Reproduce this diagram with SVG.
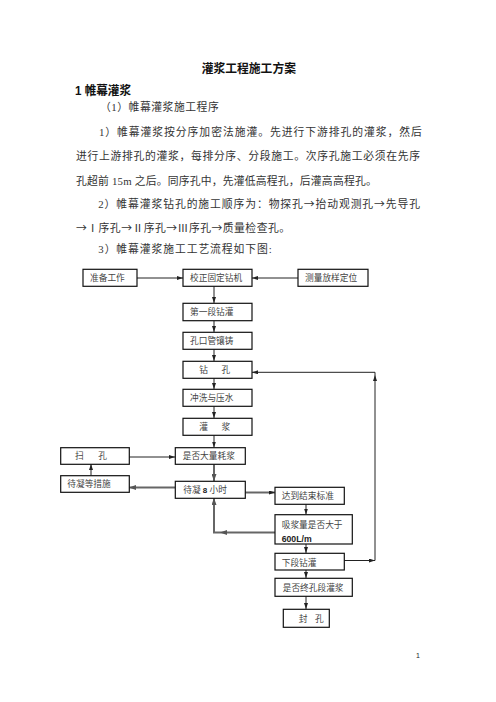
<svg xmlns="http://www.w3.org/2000/svg" width="496" height="702" viewBox="0 0 496 702">
<defs>
<marker id="ah" markerWidth="6" markerHeight="4" refX="6" refY="2" orient="auto" markerUnits="userSpaceOnUse">
<path d="M0,0 L6,2 L0,4 Z" fill="#222"/>
</marker>
<marker id="ahg" markerWidth="7" markerHeight="5" refX="7" refY="2.5" orient="auto" markerUnits="userSpaceOnUse">
<path d="M0,0 L7,2.5 L0,5 Z" fill="#555"/>
</marker>
</defs>
<style>
.body{font-family:"Liberation Serif","Noto Sans CJK SC",serif;font-size:10.8px;fill:#333}
.ar{font-family:"Noto Sans CJK SC",sans-serif}
.h{font-family:"Liberation Sans","Noto Sans CJK SC",sans-serif;font-weight:bold;fill:#111}
.box rect{fill:#fff;stroke:#111;stroke-width:1.2}
.box text{font-family:"Liberation Serif","Noto Sans CJK SC",serif;font-size:8.7px;fill:#444}
.box .num{font-family:"Liberation Sans",Arial,sans-serif;font-weight:bold;fill:#222}
.c{fill:none;stroke:#222;stroke-width:1}
.g{fill:none;stroke:#666;stroke-width:2}
</style>
<rect width="496" height="702" fill="#fff"/>
<g id="text">
<text class="h" x="201.7" y="72.6" font-size="12" textLength="94.3" lengthAdjust="spacingAndGlyphs">灌浆工程施工方案</text>
<text class="h" x="75" y="94.7" font-size="12.5" textLength="56" lengthAdjust="spacingAndGlyphs">1 帷幕灌浆</text>
<text class="body" x="100" y="110.6" textLength="118.7">（1）帷幕灌浆施工程序</text>
<text class="body" x="99" y="135.6" textLength="322.7">1）帷幕灌浆按分序加密法施灌。先进行下游排孔的灌浆，然后</text>
<text class="body" x="76" y="160.1" textLength="344">进行上游排孔的灌浆，每排分序、分段施工。次序孔施工必须在先序</text>
<text class="body" x="76" y="184.6" textLength="300.7">孔超前 15m 之后。同序孔中，先灌低高程孔，后灌高高程孔。</text>
<text class="body" x="98.3" y="208.4" textLength="321.7">2）帷幕灌浆钻孔的施工顺序为：物探孔<tspan class="ar">→</tspan>抬动观测孔<tspan class="ar">→</tspan>先导孔</text>
<text class="body" x="76" y="232.1" textLength="214"><tspan class="ar">→</tspan>Ⅰ序孔<tspan class="ar">→</tspan>Ⅱ序孔<tspan class="ar">→</tspan>Ⅲ序孔<tspan class="ar">→</tspan>质量检查孔。</text>
<text class="body" x="98.3" y="253.1" textLength="173.4">3）帷幕灌浆施工工艺流程如下图:</text>
<text x="416" y="657.5" font-family="Liberation Sans,Arial,sans-serif" font-size="7" fill="#222">1</text>
</g>
<g id="connectors">
<line class="c" x1="137" y1="278" x2="183" y2="278" marker-end="url(#ah)"/>
<line class="c" x1="298" y1="278" x2="252" y2="278" marker-end="url(#ah)"/>
<line class="c" x1="214" y1="286" x2="214" y2="303" marker-end="url(#ah)"/>
<line class="c" x1="214" y1="320.5" x2="214" y2="332" marker-end="url(#ah)"/>
<line class="c" x1="214" y1="349" x2="214" y2="361" marker-end="url(#ah)"/>
<line class="c" x1="214" y1="378" x2="214" y2="389" marker-end="url(#ah)"/>
<line class="c" x1="214" y1="406" x2="214" y2="418" marker-end="url(#ah)"/>
<line class="c" x1="214" y1="435" x2="214" y2="447.5" marker-end="url(#ah)"/>
<line class="g" x1="214" y1="464" x2="214" y2="481" marker-end="url(#ahg)"/>
<line class="c" x1="129" y1="457" x2="175" y2="457" marker-end="url(#ah)"/>
<line class="c" x1="91" y1="475.5" x2="91" y2="464" marker-end="url(#ah)"/>
<line class="g" x1="175" y1="487.5" x2="129" y2="487.5" marker-end="url(#ahg)"/>
<line class="g" x1="245" y1="492.5" x2="275" y2="492.5" marker-end="url(#ah)"/>
<line class="c" x1="306" y1="504" x2="306" y2="514.5" marker-end="url(#ah)"/>
<path class="g" d="M275,532.5 L220,532.5" marker-end="url(#ahg)"/>
<path class="g" d="M220,532.5 L214,532.5 L214,498" marker-end="url(#ahg)"/>
<line class="c" x1="306" y1="544" x2="306" y2="553" marker-end="url(#ah)"/>
<line class="c" x1="344" y1="560.5" x2="375" y2="560.5" marker-end="url(#ah)"/>
<path class="c" d="M375,560.5 L375,375" marker-end="url(#ah)"/>
<path class="c" d="M375,375 L375,372.3 L252,372.3" marker-end="url(#ah)"/>
<line class="c" x1="306" y1="570" x2="306" y2="578" marker-end="url(#ah)"/>
<line class="c" x1="306" y1="596" x2="306" y2="609" marker-end="url(#ah)"/>
</g>
<g id="n1" class="box"><rect x="83" y="269.3" width="54" height="17"/><text x="90" y="281.3">准备工作</text></g>
<g id="n2" class="box"><rect x="183" y="269.3" width="69" height="17"/><text x="190" y="281.3">校正固定钻机</text></g>
<g id="n3" class="box"><rect x="298" y="269.3" width="70" height="17"/><text x="305" y="281.3">测量放样定位</text></g>
<g id="n4" class="box"><rect x="183" y="303.3" width="69" height="17.4"/><text x="190" y="315.3">第一段钻灌</text></g>
<g id="n5" class="box"><rect x="183" y="332.3" width="69" height="17"/><text x="190" y="344.2">孔口管镶铸</text></g>
<g id="n6" class="box"><rect x="183" y="361.3" width="69" height="17"/><text x="199.3" y="373.2" textLength="31" lengthAdjust="spacing">钻 孔</text></g>
<g id="n7" class="box"><rect x="183" y="389.3" width="69" height="17"/><text x="190" y="401.2">冲洗与压水</text></g>
<g id="n8" class="box"><rect x="183" y="418.3" width="69" height="17"/><text x="199.3" y="430.2" textLength="31" lengthAdjust="spacing">灌 浆</text></g>
<g id="n9" class="box"><rect x="175.3" y="447.7" width="70" height="16.6"/><text x="182.7" y="459.3">是否大量耗浆</text></g>
<g id="n10" class="box"><rect x="60.7" y="447.7" width="68.6" height="16.6"/><text x="75" y="459.3" textLength="32" lengthAdjust="spacing">扫 孔</text></g>
<g id="n11" class="box"><rect x="60.7" y="475.7" width="68.6" height="16.6"/><text x="67.3" y="487.3">待凝等措施</text></g>
<g id="n12" class="box"><rect x="175.3" y="481.3" width="70" height="17"/><text x="183.3" y="493.2">待凝 <tspan class="num" font-size="8">8</tspan> 小时</text></g>
<g id="n13" class="box"><rect x="275" y="487.3" width="69.3" height="17"/><text x="281.7" y="499.2">达到结束标准</text></g>
<g id="n14" class="box"><rect x="275" y="514.7" width="77.3" height="29.3"/><text x="281.7" y="527.6">吸浆量是否大于</text><text class="num" x="281.7" y="542" font-size="8">600L/m</text></g>
<g id="n15" class="box"><rect x="275" y="553.3" width="69.3" height="16.7"/><text x="281.7" y="565.5">下段钻灌</text></g>
<g id="n16" class="box"><rect x="275" y="578.3" width="77.3" height="18"/><text x="282.7" y="591">是否终孔段灌浆</text></g>
<g id="n17" class="box"><rect x="283.3" y="609.3" width="46" height="18"/><text x="298.7" y="621.5" textLength="25" lengthAdjust="spacing">封 孔</text></g>
</svg>
